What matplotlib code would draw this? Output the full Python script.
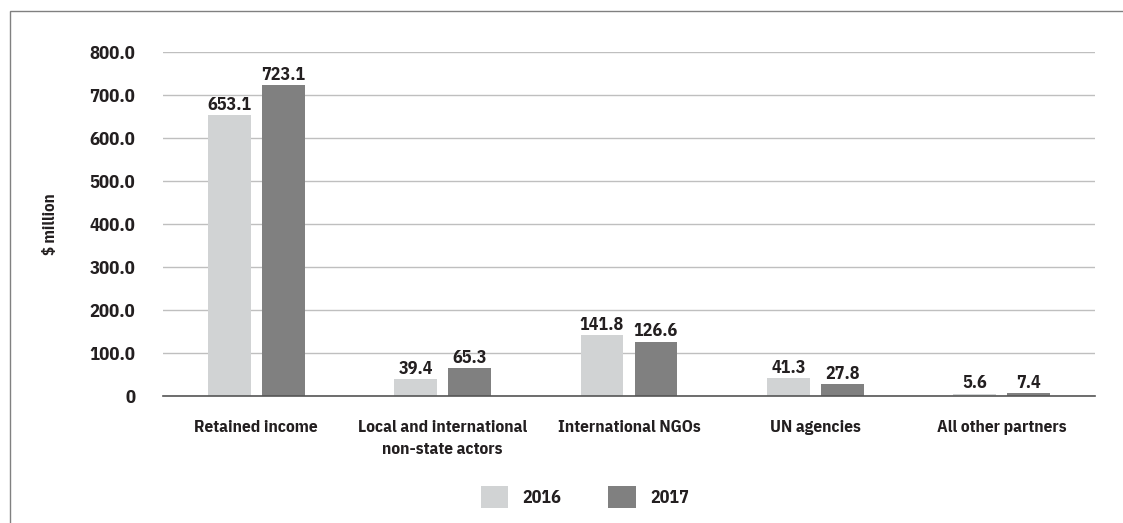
import matplotlib.pyplot as plt
import numpy as np
from matplotlib.patches import Rectangle

# Данные
categories = ["Retained income", "Local and international\nnon-state actors",
              "International NGOs", "UN agencies", "All other partners"]
values_2016 = [653.1, 39.4, 141.8, 41.3, 5.6]
values_2017 = [723.1, 65.3, 126.6, 27.8, 7.4]
years = ["2016", "2017"]
y_ticks = [0, 100, 200, 300, 400, 500, 600, 700, 800]

COLOR_2016 = "#d1d3d4"
COLOR_2017 = "#808080"
TEXT = "#231f20"

plt.rcParams["font.family"] = ["IBM Plex Sans Condensed", "DejaVu Sans"]
plt.rcParams["font.weight"] = "bold"


def main():
    fig = plt.figure(figsize=(11.23, 5.23), dpi=100)
    ax = fig.add_axes([163 / 1123, 1 - 396 / 523, (1095 - 163) / 1123, (396 - 52) / 523])

    x = np.arange(len(categories))
    w = 0.23
    off = 0.145
    b1 = ax.bar(x - off, values_2016, w, color=COLOR_2016, label=years[0], zorder=3)
    b2 = ax.bar(x + off, values_2017, w, color=COLOR_2017, label=years[1], zorder=3)

    for bars, vals in ((b1, values_2016), (b2, values_2017)):
        for r, v in zip(bars, vals):
            ax.text(r.get_x() + r.get_width() / 2, v + 3, f"{v:.1f}",
                    ha="center", va="bottom", fontsize=13, fontweight="bold", color=TEXT)

    ax.set_xlim(-0.5, len(categories) - 0.5)
    ax.set_ylim(0, 800)
    ax.set_yticks(y_ticks)
    ax.set_yticklabels(["0" if t == 0 else f"{t:.1f}" for t in y_ticks])
    ax.set_xticks(x)
    ax.set_xticklabels(categories, linespacing=1.6)
    ax.tick_params(axis="y", length=0, pad=20, labelsize=13.5, labelcolor=TEXT)
    ax.tick_params(axis="x", length=0, pad=17, labelsize=12.5, labelcolor=TEXT)

    ax.grid(axis="y", color="#bfbfbf", linewidth=1, zorder=0)
    for s in ["top", "right", "left"]:
        ax.spines[s].set_visible(False)
    ax.spines["bottom"].set_color("#555555")
    ax.spines["bottom"].set_linewidth(1.2)
    ax.spines["bottom"].set_zorder(4)

    fig.text(50 / 1123, 1 - 224 / 523, "\\$ million", rotation=90, ha="center", va="center",
             fontsize=12, fontweight="bold", color=TEXT)

    fig.legend(handles=[b1, b2], labels=years, loc="center", bbox_to_anchor=(585 / 1123, 1 - 497 / 523),
               ncol=2, frameon=False, fontsize=13, handlelength=1.5, handleheight=1.5,
               columnspacing=2.6, handletextpad=0.8, labelcolor=TEXT)

    # рамка вокруг рисунка
    fig.patches.append(Rectangle((10 / 1123, -0.01), 1.1, 1 - 11 / 523 + 0.01, transform=fig.transFigure,
                                 fill=False, edgecolor="#808080", linewidth=1))

    fig.savefig("out.png", dpi=100)


if __name__ == "__main__":
    main()
